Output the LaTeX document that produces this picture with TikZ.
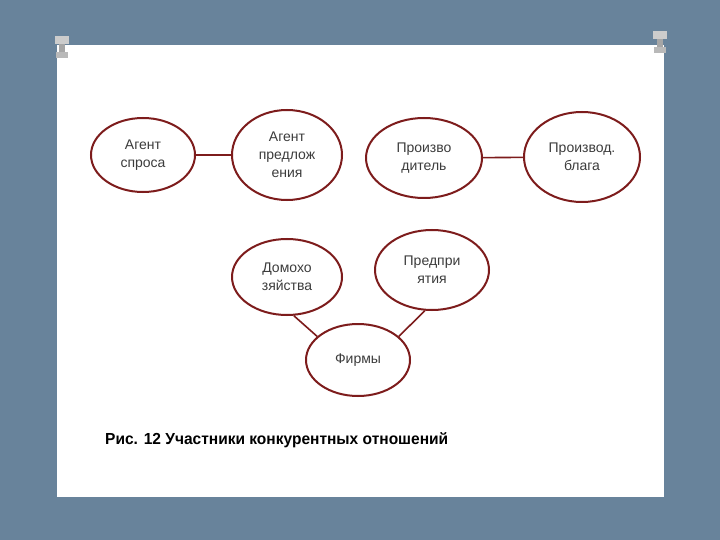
\documentclass[tikz,border=0pt]{standalone}
\usepackage{fontspec}
\setmainfont{Liberation Sans}
\usetikzlibrary{shapes.geometric}
\definecolor{bg}{RGB}{104,131,155}
\definecolor{ered}{RGB}{125,28,28}
\definecolor{txt}{RGB}{60,60,60}
\begin{document}
\begin{tikzpicture}[x=1pt,y=-1pt,
 el/.style={ellipse,draw=ered,line width=2pt,fill=white,text=txt,font=\fontsize{14}{18}\selectfont,align=center,inner sep=0pt},
 link/.style={draw=ered,line width=1.6pt}]
\useasboundingbox (0,0) rectangle (720,540);
\fill[bg] (0,0) rectangle (720,540);
\fill[white] (57,45) rectangle (664,497);
% pins
\foreach \px/\py in {62/48,660/43}{
 \fill[gray!70] (\px-3,\py-10) rectangle (\px+3,\py+8);
 \fill[gray!40] (\px-7,\py-12) rectangle (\px+7,\py-4);
 \fill[gray!55] (\px-6,\py+4) rectangle (\px+6,\py+10);
}
\node[el,minimum width=104pt,minimum height=74pt] (as) at (143,155) {Агент\\спроса};
\node[el,minimum width=110pt,minimum height=90pt] (ap) at (287,155) {Агент\\предлож\\ения};
\node[el,minimum width=116pt,minimum height=80pt] (pr) at (424,158) {Произво\\дитель};
\node[el,minimum width=116pt,minimum height=90pt] (pb) at (582,157) {Производ.\\блага};
\node[el,minimum width=110pt,minimum height=76pt] (dh) at (287,277) {Домохо\\зяйства};
\node[el,minimum width=114pt,minimum height=80pt] (pp) at (432,270) {Предпри\\ятия};
\node[el,minimum width=104pt,minimum height=72pt] (fm) at (358,360) {Фирмы};
\draw[link] (as) -- (ap);
\draw[link] (pr) -- (pb);
\draw[link] (dh.-80) -- (fm.150);
\draw[link] (pp.-100) -- (fm.30);
\node[anchor=west,font=\fontsize{16}{18}\selectfont\bfseries,text=black,inner sep=0pt,xscale=0.97] (cap) at (105,440) {Рис. 12 Участники конкурентных отношений};
\end{tikzpicture}
\end{document}
